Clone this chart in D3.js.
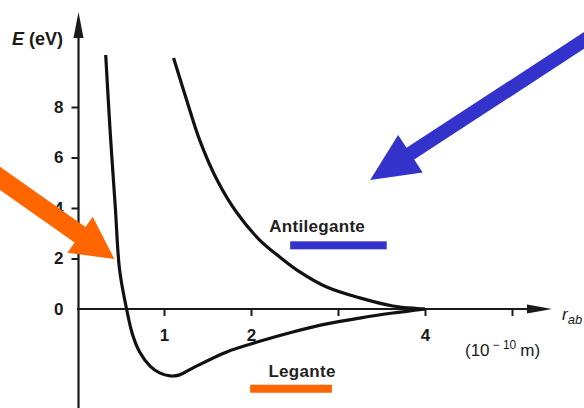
<!DOCTYPE html>
<html>
<head>
  <meta charset="utf-8">
  <script src="https://d3js.org/d3.v7.min.js"></script>
  <style>
  body { margin: 0; background: #fff; }
  svg { display: block; font-family: "Liberation Sans", Arial, sans-serif; }
  .axis line { stroke: #1a1a1a; stroke-width: 2px; }
  .curve { fill: none; stroke: #111; stroke-width: 3.2px; }
  .label { font-size: 17px; font-weight: bold; fill: #222; letter-spacing: 0.3px; }
  </style>
</head>
<body>
<script>
// distance r (10^-10 m) and energy E (eV)
var bondR = [0.33, 0.38, 0.44, 0.49, 0.57, 0.64, 0.72, 0.84, 0.95, 1.07, 1.18, 1.33, 1.72, 2.10, 2.48, 2.87, 3.25, 3.63, 3.91, 4.0];
var bondE = [10.06, 7.09, 4.04, 1.54, 0, -1.03, -1.70, -2.26, -2.53, -2.65, -2.61, -2.34, -1.70, -1.28, -0.91, -0.59, -0.36, -0.16, -0.04, 0];
var antiR = [1.11, 1.26, 1.41, 1.61, 1.84, 2.10, 2.33, 2.56, 2.87, 3.25, 3.63, 3.91, 4.0];
var antiE = [9.94, 8.28, 6.69, 5.11, 3.80, 2.73, 2.06, 1.47, 0.87, 0.44, 0.12, 0.02, 0];
var xTicks = [1, 2, 3, 4, 5];
var xTickLabels = ["1", "2", "", "4", ""];
var yTicks = [0, 2, 4, 6, 8];

var W = 584, H = 408;
var svg = d3.select("body").append("svg").attr("width", W).attr("height", H);

var x = d3.scaleLinear().domain([0, 5]).range([77, 512]);
var y = d3.scaleLinear().domain([0, 8]).range([309, 107]);

// axes lines with arrow heads
var ax = svg.append("g");
ax.append("line").attr("x1", x(0) + 1.5).attr("y1", H + 2).attr("x2", x(0) + 1.5).attr("y2", 30)
  .attr("stroke", "#1a1a1a").attr("stroke-width", 2.2);
ax.append("path").attr("d", "M" + (x(0) + 1.5) + ",12 L" + (x(0) - 3.5) + ",38 L" + (x(0) + 6.5) + ",38 Z")
  .attr("fill", "#1a1a1a");
ax.append("line").attr("x1", x(0)).attr("y1", y(0)).attr("x2", 535).attr("y2", y(0))
  .attr("stroke", "#1a1a1a").attr("stroke-width", 2.2);
ax.append("path").attr("d", "M552," + y(0) + " L527," + (y(0) - 4.5) + " L527," + (y(0) + 4.5) + " Z")
  .attr("fill", "#1a1a1a");

var xAxis = d3.axisBottom(x).tickValues(xTicks).tickSize(7).tickPadding(13)
  .tickFormat(function(d, i) { return xTickLabels[i]; });
svg.append("g").attr("class", "x axis")
  .attr("transform", "translate(0," + y(0) + ")")
  .call(xAxis)
  .call(function(g) { g.select(".domain").remove(); });

var yAxis = d3.axisLeft(y).tickValues(yTicks).tickSize(7).tickPadding(8);
svg.append("g").attr("class", "y axis")
  .attr("transform", "translate(" + (x(0) + 1.5) + ",0)")
  .call(yAxis)
  .call(function(g) {
    g.select(".domain").remove();
    g.selectAll(".tick").filter(function(d) { return d === 0; }).select("line").remove();
  });

svg.selectAll(".axis text")
  .style("font-size", "17px").style("font-weight", "bold").style("fill", "#1a1a1a")
  .style("font-family", "'Liberation Sans', Arial, sans-serif");

// curves
var line = d3.line()
  .x(function(d) { return x(d[0]); })
  .y(function(d) { return y(d[1]); })
  .curve(d3.curveCatmullRom.alpha(0.5));

svg.append("path").attr("class", "curve").datum(d3.zip(bondR, bondE)).attr("d", line);
svg.append("path").attr("class", "curve").datum(d3.zip(antiR, antiE)).attr("d", line);

// axis titles
var et = svg.append("text").attr("x", 12).attr("y", 45)
  .style("font-size", "18px").style("font-weight", "bold").attr("fill", "#1a1a1a");
et.append("tspan").style("font-style", "italic").text("E");
et.append("tspan").text(" (eV)");

var rt = svg.append("text").attr("x", 562).attr("y", 320)
  .style("font-size", "17px").attr("fill", "#1a1a1a");
rt.append("tspan").style("font-style", "italic").text("r");
rt.append("tspan").attr("dy", 4).style("font-size", "13px").style("font-style", "italic").text("ab");

var ut = svg.append("text").attr("x", 465).attr("y", 356)
  .style("font-size", "17px").attr("fill", "#1a1a1a");
ut.append("tspan").text("(10");
ut.append("tspan").attr("dy", -7).attr("dx", 3).style("font-size", "12px").text("\u2212 10");
ut.append("tspan").attr("dy", 7).attr("dx", 4).text("m)");

// curve names and coloured marks
svg.append("text").attr("class", "label").attr("x", x(2.20)).attr("y", y(-2.69)).text("Legante");
svg.append("text").attr("class", "label").attr("x", x(2.21)).attr("y", y(3.05)).text("Antilegante");

svg.append("rect").attr("x", x(1.99)).attr("y", y(-3.0)).attr("width", x(2.93) - x(1.99)).attr("height", 8)
  .attr("fill", "#ff6600");
svg.append("rect").attr("x", x(2.45)).attr("y", y(2.68)).attr("width", x(3.56) - x(2.45)).attr("height", 8)
  .attr("fill", "#3333cc");

// big pointer arrows (tail and tip in data units)
function arrow(x0, y0, x1, y1, shaft, headW, headL, color) {
  var px0 = x(x0), py0 = y(y0), px1 = x(x1), py1 = y(y1);
  var dx = px1 - px0, dy = py1 - py0, len = Math.sqrt(dx * dx + dy * dy);
  var ux = dx / len, uy = dy / len, nx = -uy, ny = ux;
  var bx = px1 - ux * headL, by = py1 - uy * headL;
  var pts = [
    [px0 + nx * shaft / 2, py0 + ny * shaft / 2],
    [bx + nx * shaft / 2, by + ny * shaft / 2],
    [bx + nx * headW / 2, by + ny * headW / 2],
    [px1, py1],
    [bx - nx * headW / 2, by - ny * headW / 2],
    [bx - nx * shaft / 2, by - ny * shaft / 2],
    [px0 - nx * shaft / 2, py0 - ny * shaft / 2]
  ];
  svg.append("path").attr("d", "M" + pts.join("L") + "Z").attr("fill", color);
}
arrow(-1.0, 5.45, 0.43, 1.98, 19, 44, 42, "#ff6600");
arrow(6.1, 11.25, 3.37, 5.11, 14, 45, 48, "#3333cc");
</script>
</body>
</html>
